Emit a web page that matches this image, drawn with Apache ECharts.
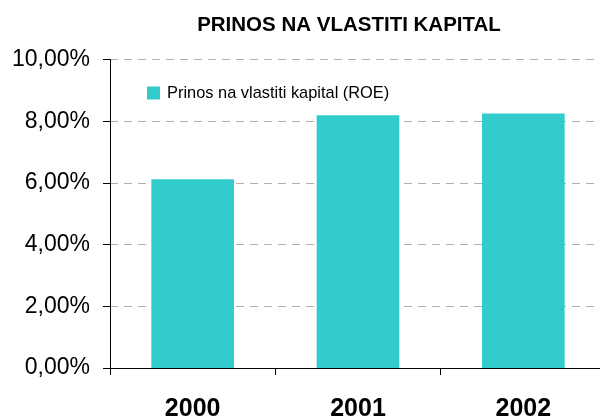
<!DOCTYPE html>
<html>
<head>
<meta charset="utf-8">
<script src="https://cdn.jsdelivr.net/npm/echarts@6/dist/echarts.min.js"></script>
<style>
html,body{margin:0;padding:0;background:#fff;}
#chart{width:600px;height:416px;}
</style>
</head>
<body>
<div id="chart"></div>
<script>
const titleText = 'PRINOS NA VLASTITI KAPITAL';
const seriesName = 'Prinos na vlastiti kapital (ROE)';
const categories = ['2000', '2001', '2002'];
const roeValues = [6.12, 8.19, 8.25];
const yTicks = [0, 2, 4, 6, 8, 10];

const chart = echarts.init(document.getElementById('chart'), null, {renderer: 'canvas'});
const fmt = v => v.toFixed(2).replace('.', ',') + '%';

chart.setOption({
  animation: false,
  backgroundColor: '#ffffff',
  title: {
    text: titleText,
    left: 349,
    textAlign: 'center',
    top: 15,
    padding: 0,
    textStyle: {
      fontFamily: "'Liberation Sans', Arial, sans-serif",
      fontWeight: 'bold',
      fontSize: 20.5,
      color: '#000'
    }
  },
  legend: {
    data: [seriesName],
    left: 147,
    top: 83,
    padding: 0,
    itemWidth: 13,
    itemHeight: 13,
    icon: 'rect',
    textStyle: {
      fontFamily: "'Liberation Sans', Arial, sans-serif",
      fontSize: 16.4,
      lineHeight: 20,
      color: '#000',
      padding: [0, 0, 0, 2]
    }
  },
  grid: {
    left: 110,
    right: -6,
    top: 59.5,
    bottom: 48,
    containLabel: false,
    outerBoundsMode: 'none'
  },
  xAxis: {
    type: 'category',
    data: categories,
    axisLine: {show: true, lineStyle: {color: '#000', width: 1}},
    axisTick: {show: true, length: 7, alignWithLabel: false, lineStyle: {color: '#000'}},
    axisLabel: {
      margin: 29,
      fontFamily: "'Liberation Sans', Arial, sans-serif",
      fontWeight: 'bold',
      fontSize: 25,
      color: '#000'
    },
    splitLine: {show: false}
  },
  yAxis: {
    type: 'value',
    min: yTicks[0],
    max: yTicks[yTicks.length - 1],
    interval: yTicks[1] - yTicks[0],
    axisLine: {show: true, lineStyle: {color: '#000', width: 1}},
    axisTick: {show: true, length: 7, inside: false, lineStyle: {color: '#000'}},
    axisLabel: {
      margin: 20,
      fontFamily: "'Liberation Sans', Arial, sans-serif",
      fontSize: 23,
      color: '#000',
      formatter: fmt
    },
    splitLine: {show: true, lineStyle: {color: '#b0b0b0', type: [8, 6], width: 1}}
  },
  series: [{
    name: seriesName,
    type: 'bar',
    data: roeValues,
    barWidth: '50%',
    itemStyle: {color: '#33CCCC'}
  }]
});
</script>
</body>
</html>
